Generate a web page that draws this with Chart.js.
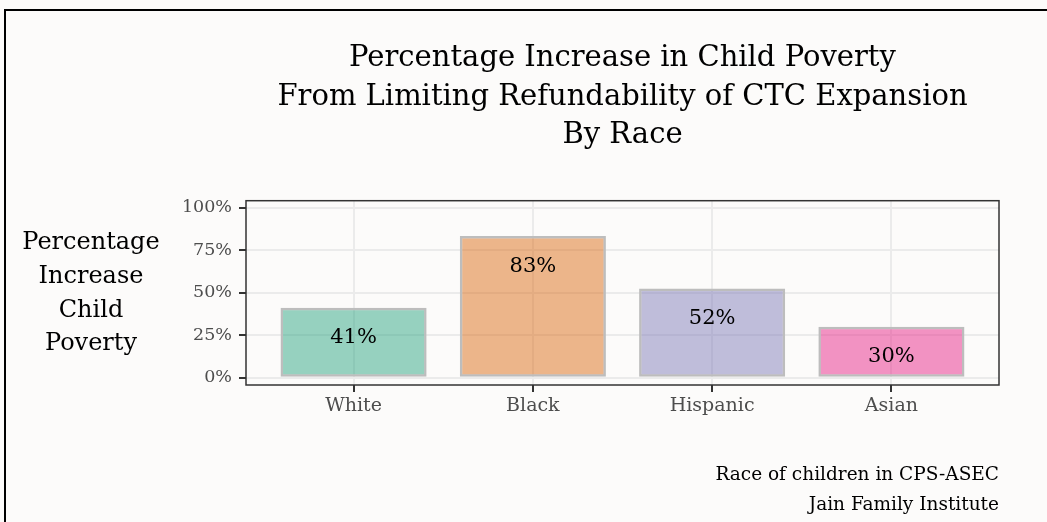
<!DOCTYPE html>
<html>
<head>
<meta charset="utf-8">
<script src="https://cdn.jsdelivr.net/npm/chart.js@4.4.1/dist/chart.umd.min.js"></script>
<style>
  html, body { margin: 0; padding: 0; background: #fcfbfa; }
  #wrap { position: relative; width: 1047px; height: 522px; }
</style>
</head>
<body>
<div id="wrap"><canvas id="povChart"></canvas></div>
<script>
// Chart data
const categories = ['White', 'Black', 'Hispanic', 'Asian'];
const increasePct = [41.2, 83.3, 52.4, 30.0];
const yTickValues = [0, 25, 50, 75, 100];
const barFills = ['rgba(27,158,119,0.45)', 'rgba(217,95,2,0.45)', 'rgba(117,112,179,0.45)', 'rgba(231,41,138,0.5)'];
const titleLines = ['Percentage Increase in Child Poverty', 'From Limiting Refundability of CTC Expansion', 'By Race'];
const yTitleLines = ['Percentage', 'Increase', 'Child', 'Poverty'];
const captionLines = ['Race of children in CPS-ASEC', 'Jain Family Institute'];

const FONT = '"DejaVu Serif", serif';

// background, page frame, titles, bar labels
const decorPlugin = {
    id: 'decor',
    beforeDraw(chart) {
        const c = chart.ctx;
        c.save();
        c.fillStyle = '#fcfbfa';
        c.fillRect(0, 0, chart.width, chart.height);
        c.strokeStyle = '#000';
        c.lineWidth = 2;
        c.beginPath();
        c.moveTo(5, chart.height);
        c.lineTo(5, 10);
        c.lineTo(chart.width, 10);
        c.stroke();
        c.restore();
    },
    afterDatasetsDraw(chart) {
        const c = chart.ctx;
        const area = chart.chartArea;
        c.save();
        // panel border
        c.strokeStyle = '#333';
        c.lineWidth = 1.5;
        c.strokeRect(area.left, area.top, area.right - area.left, area.bottom - area.top);

        // value labels inside bars
        c.fillStyle = '#000';
        c.font = '21px ' + FONT;
        c.textAlign = 'center';
        c.textBaseline = 'middle';
        chart.getDatasetMeta(0).data.forEach((bar, i) => {
            c.fillText(Math.round(increasePct[i]) + '%', bar.x, bar.y + 30);
        });

        // title centred on panel
        const cx = (area.left + area.right) / 2;
        c.font = '29px ' + FONT;
        c.textBaseline = 'alphabetic';
        titleLines.forEach((t, i) => c.fillText(t, cx, 66 + i * 38.5));

        // horizontal y-axis title
        c.font = '24px ' + FONT;
        c.textBaseline = 'middle';
        yTitleLines.forEach((t, i) => c.fillText(t, 91, 243 + i * 33.7));

        // caption
        c.font = '18.5px ' + FONT;
        c.textAlign = 'right';
        captionLines.forEach((t, i) => c.fillText(t, area.right, 475 + i * 30));
        c.restore();
    }
};

new Chart(document.getElementById('povChart'), {
    type: 'bar',
    data: {
        datasets: [{
            data: increasePct.map((v, i) => ({ x: i, y: v })),
            backgroundColor: barFills,
            borderColor: '#bdbdbd',
            borderWidth: 2.5,
            borderSkipped: false,
            barPercentage: 0.815,
            categoryPercentage: 1.0
        }]
    },
    options: {
        responsive: true,
        maintainAspectRatio: false,
        animation: false,
        layout: { padding: { left: 0, top: 200.7, right: 48, bottom: 97 } },
        plugins: { legend: { display: false }, tooltip: { enabled: false }, title: { display: false } },
        scales: {
            x: {
                type: 'linear',
                min: -0.6,
                max: 3.6,
                offset: false,
                afterBuildTicks: axis => { axis.ticks = categories.map((_, i) => ({ value: i })); },
                afterFit: axis => { axis.height = 40; },
                grid: { offset: false, color: '#ebebeb', lineWidth: 2, tickColor: '#333', tickLength: 7, tickWidth: 2 },
                border: { display: false },
                ticks: {
                    autoSkip: false,
                    maxRotation: 0,
                    padding: 3,
                    color: '#4d4d4d',
                    font: { family: FONT, size: 19 },
                    callback: v => categories[v]
                }
            },
            y: {
                min: -4.3,
                max: 104.1,
                afterBuildTicks: axis => { axis.ticks = yTickValues.map(v => ({ value: v })); },
                afterFit: axis => { axis.width = 246; },
                grid: { color: '#ebebeb', lineWidth: 2, tickColor: '#333', tickLength: 7, tickWidth: 2 },
                border: { display: false },
                ticks: {
                    padding: 7,
                    color: '#4d4d4d',
                    font: { family: FONT, size: 17.5 },
                    callback: v => v + '%'
                }
            }
        }
    },
    plugins: [decorPlugin]
});
</script>
</body>
</html>
